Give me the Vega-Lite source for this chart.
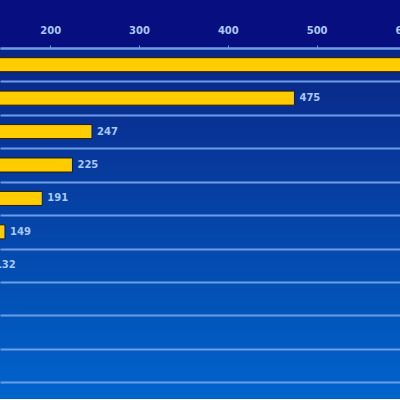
{
  "$schema": "https://vega.github.io/schema/vega-lite/v6.json",
  "autosize": {"type": "none"},
  "padding": {"top": 48, "left": 0, "right": 0, "bottom": 0},
  "width": 500,
  "height": 351,
  "background": "#070e80",
  "config": {
    "view": {
      "stroke": null,
      "fill": {"gradient": "linear", "x1": 0, "y1": 0, "x2": 0, "y2": 1, "stops": [{"offset": 0, "color": "#0a2585"}, {"offset": 1, "color": "#0064cc"}]}
    }
  },
  "data": {
    "values": [
      {"item": "Item 1", "value": 630},
      {"item": "Item 2", "value": 475},
      {"item": "Item 3", "value": 247},
      {"item": "Item 4", "value": 225},
      {"item": "Item 5", "value": 191},
      {"item": "Item 6", "value": 149},
      {"item": "Item 7", "value": 132},
      {"item": "Item 8", "value": 110},
      {"item": "Item 9", "value": 98},
      {"item": "Item 10", "value": 87}
    ]
  },
  "encoding": {
    "y": {
      "field": "item",
      "type": "nominal",
      "sort": null,
      "scale": {"paddingInner": 0, "paddingOuter": 0.25, "align": 0},
      "axis": {"title": null, "labels": false, "ticks": false, "domain": false, "grid": true, "tickBand": "extent", "gridColor": "#6e9de8", "gridWidth": 2, "gridOpacity": 1}
    }
  },
  "layer": [
    {
      "mark": {"type": "bar", "clip": true, "fill": "#ffcc00", "stroke": "#2b1d00", "strokeWidth": 1, "height": {"band": 0.42}},
      "encoding": {
        "x": {
          "field": "value",
          "type": "quantitative",
          "scale": {"domain": [143.4, 706.5], "zero": false, "nice": false},
          "axis": {
            "orient": "top",
            "title": null,
            "values": [200, 300, 400, 500, 600, 700],
            "grid": false,
            "labelFont": "DejaVu Sans",
            "labelFontSize": 10,
            "labelFontWeight": "bold",
            "labelColor": "#a9c8f5",
            "labelPadding": 10,
            "domainColor": "#6e9de8",
            "domainWidth": 2,
            "tickColor": "#6e9de8",
            "tickSize": 3,
            "tickWidth": 1
          }
        }
      }
    },
    {
      "mark": {"type": "text", "align": "left", "baseline": "middle", "dx": 5, "font": "DejaVu Sans", "fontWeight": "bold", "fontSize": 10, "color": "#a9c8f5"},
      "encoding": {
        "x": {"field": "value", "type": "quantitative"},
        "text": {"field": "value", "type": "quantitative"}
      }
    }
  ]
}
